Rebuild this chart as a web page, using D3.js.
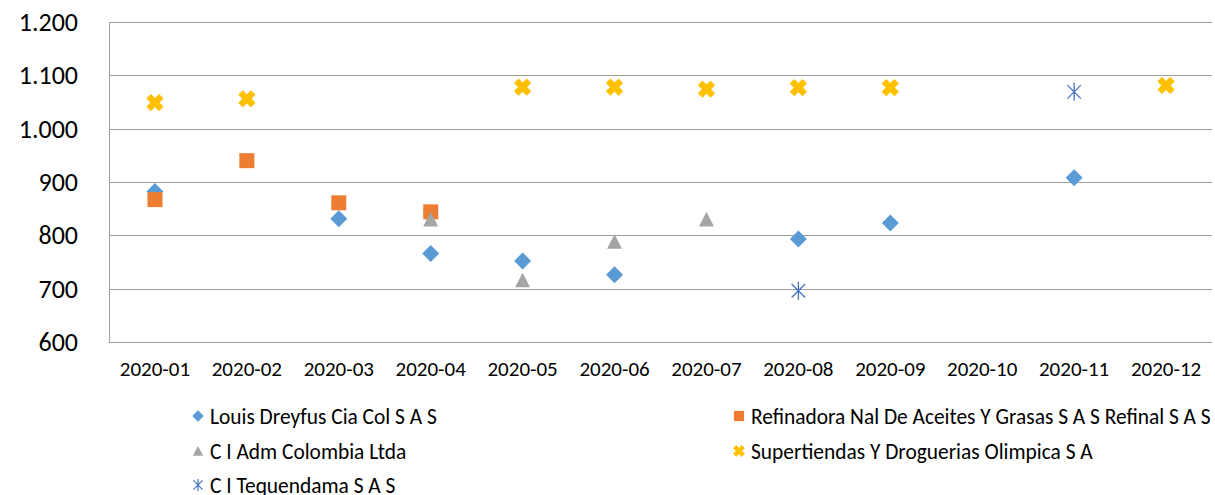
<!DOCTYPE html>
<html>
<head>
<meta charset="utf-8">
<script src="https://cdn.jsdelivr.net/npm/d3@7"></script>
<style>
  body { margin: 0; background: #fff; }
  svg { display: block; }
  text { font-family: Carlito, Calibri, Lato, "Liberation Sans", sans-serif; fill: #000; }
</style>
</head>
<body>
<div id="chart"></div>
<script>
var months = ["2020-01", "2020-02", "2020-03", "2020-04", "2020-05", "2020-06",
              "2020-07", "2020-08", "2020-09", "2020-10", "2020-11", "2020-12"];

var seriesNames = ["Louis Dreyfus Cia Col S A S",
                   "Refinadora Nal De Aceites Y Grasas S A S Refinal S A S",
                   "C I Adm Colombia Ltda",
                   "Supertiendas Y Droguerias Olimpica S A",
                   "C I Tequendama S A S"];

// null = no point that month
var louisDreyfus = [882, null, 831, 766, 752, 726, null, 793, 823, null, 908, null];
var refinadora   = [867, 940, 861, 844, null, null, null, null, null, null, null, null];
var ciAdm        = [null, null, null, 830, 716, 788, 830, null, null, null, null, null];
var olimpica     = [1049, 1056, null, null, 1078, 1078, 1074, 1077, 1077, null, null, 1081];
var tequendama   = [null, null, null, null, null, null, null, 696, null, null, 1069, null];

var yTicks = [600, 700, 800, 900, 1000, 1100, 1200];

var width = 1215;
var height = 495;
var margin = { top: 22, right: 3, bottom: 153, left: 109 };
var innerWidth = width - margin.left - margin.right;
var innerHeight = height - margin.top - margin.bottom;

var svg = d3.select("#chart")
    .append("svg")
    .attr("width", width)
    .attr("height", height);

var g = svg.append("g")
    .attr("transform", "translate(" + margin.left + "," + margin.top + ")");

var x = d3.scaleBand().domain(months).range([0, innerWidth]);
var y = d3.scaleLinear().domain([600, 1200]).range([innerHeight, 0]);

var loc = d3.formatLocale({ decimal: ",", thousands: ".", grouping: [3], currency: ["$", ""] });
var fmt = loc.format(",");

// gridlines
g.selectAll(".grid")
    .data(yTicks)
    .enter()
    .append("line")
    .attr("x1", 0)
    .attr("x2", innerWidth)
    .attr("y1", function(d) { return Math.round(y(d)) + 0.5; })
    .attr("y2", function(d) { return Math.round(y(d)) + 0.5; })
    .attr("stroke", "#a0a0a0")
    .attr("stroke-width", 1);

// left axis line
g.append("line")
    .attr("x1", 0.5).attr("x2", 0.5)
    .attr("y1", 0).attr("y2", innerHeight)
    .attr("stroke", "#a0a0a0");

// y tick labels
g.selectAll(".ylab")
    .data(yTicks)
    .enter()
    .append("text")
    .attr("x", -31)
    .attr("y", function(d) { return y(d); })
    .attr("dy", "0.35em")
    .attr("text-anchor", "end")
    .style("font-size", "26px")
    .text(function(d) { return fmt(d); });

// x tick labels
g.selectAll(".xlab")
    .data(months)
    .enter()
    .append("text")
    .attr("x", function(d) { return x(d) + x.bandwidth() / 2; })
    .attr("y", innerHeight + 27)
    .attr("dy", "0.35em")
    .attr("text-anchor", "middle")
    .style("font-size", "21px")
    .text(function(d) { return d; });

// marker shapes
function diamondPath(s) {
    var p = d3.path();
    p.moveTo(0, -s); p.lineTo(s, 0); p.lineTo(0, s); p.lineTo(-s, 0); p.closePath();
    return p.toString();
}
function squarePath(s) {
    var p = d3.path();
    p.rect(-s, -s, 2 * s, 2 * s);
    return p.toString();
}
function trianglePath(s) {
    var p = d3.path();
    p.moveTo(0, -s); p.lineTo(s, s * 0.95); p.lineTo(-s, s * 0.95); p.closePath();
    return p.toString();
}
function crossPath(s) {
    // thick X
    var t = s * 0.36;
    var pts = [[-t, -s], [t, -s], [t, -t], [s, -t], [s, t], [t, t], [t, s], [-t, s], [-t, t], [-s, t], [-s, -t], [-t, -t]];
    var p = d3.path();
    pts.forEach(function(pt, i) {
        var r = Math.SQRT1_2;
        var px = (pt[0] - pt[1]) * r, py = (pt[0] + pt[1]) * r;
        if (i === 0) p.moveTo(px, py); else p.lineTo(px, py);
    });
    p.closePath();
    return p.toString();
}
function starPath(s) {
    var p = d3.path();
    p.moveTo(0, -s); p.lineTo(0, s);
    p.moveTo(-s * 0.75, -s * 0.75); p.lineTo(s * 0.75, s * 0.75);
    p.moveTo(s * 0.75, -s * 0.75); p.lineTo(-s * 0.75, s * 0.75);
    return p.toString();
}

var series = [
    { name: seriesNames[0], values: louisDreyfus, color: "#5b9bd5", shape: diamondPath, size: 8.5, stroke: false },
    { name: seriesNames[1], values: refinadora, color: "#ed7d31", shape: squarePath, size: 7.5, stroke: false },
    { name: seriesNames[2], values: ciAdm, color: "#a5a5a5", shape: trianglePath, size: 7.5, stroke: false },
    { name: seriesNames[3], values: olimpica, color: "#ffc000", shape: crossPath, size: 9, stroke: false },
    { name: seriesNames[4], values: tequendama, color: "#4472c4", shape: starPath, size: 9, stroke: true }
];

// draw points, one group per series
series.forEach(function(s) {
    var pts = s.values.map(function(v, i) { return { m: months[i], v: v }; })
        .filter(function(d) { return d.v !== null; });
    g.append("g").selectAll("path")
        .data(pts)
        .enter()
        .append("path")
        .attr("transform", function(d) {
            return "translate(" + (x(d.m) + x.bandwidth() / 2) + "," + y(d.v) + ")";
        })
        .attr("d", s.shape(s.size))
        .attr("fill", s.stroke ? "none" : s.color)
        .attr("stroke", s.stroke ? s.color : "none")
        .attr("stroke-width", 1.3);
});

// legend: two columns, three rows
var legendPos = [
    { x: 198, y: 416 }, { x: 739, y: 416 },
    { x: 198, y: 451 }, { x: 739, y: 451 },
    { x: 198, y: 485 }
];

var legend = svg.selectAll(".legend")
    .data(series)
    .enter()
    .append("g")
    .attr("transform", function(d, i) { return "translate(" + legendPos[i].x + "," + legendPos[i].y + ")"; });

legend.append("path")
    .attr("d", function(d) { return d.shape(d.size * 0.68); })
    .attr("fill", function(d) { return d.stroke ? "none" : d.color; })
    .attr("stroke", function(d) { return d.stroke ? d.color : "none"; })
    .attr("stroke-width", 1.2);

legend.append("text")
    .attr("x", 12)
    .attr("dy", "0.35em")
    .style("font-size", "21.4px")
    .text(function(d) { return d.name; });
</script>
</body>
</html>
